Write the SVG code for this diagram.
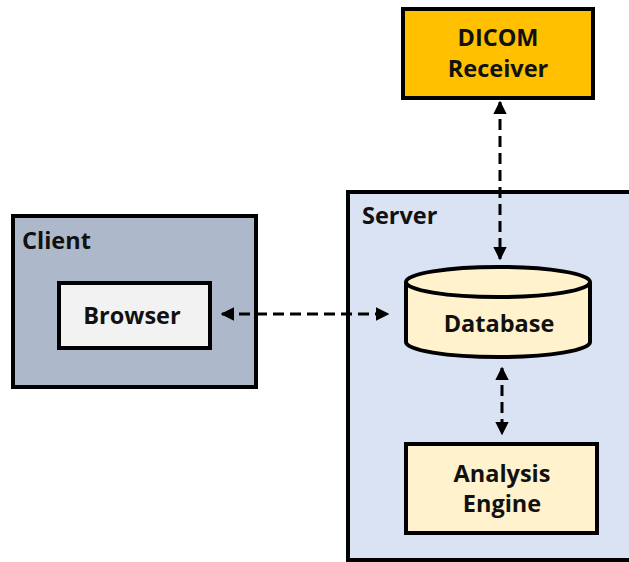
<svg xmlns="http://www.w3.org/2000/svg" width="629" height="562" viewBox="0 0 629 562">
  <defs>
    <marker id="arrow" viewBox="0 0 10 10" refX="9" refY="5" markerWidth="4.5" markerHeight="4.5" orient="auto-start-reverse" markerUnits="strokeWidth">
      <path d="M0,0 L10,5 L0,10 z" fill="#000"/>
    </marker>
    <style>
      .box { stroke: #000; stroke-width: 4; }
      .lbl { font-family: "Open Sans", "Noto Sans", sans-serif; font-weight: bold; font-size: 23.5px; fill: #111; }
      .conn { stroke: #000; stroke-width: 3; fill: none; stroke-dasharray: 11 6; marker-start: url(#arrow); marker-end: url(#arrow); }
    </style>
  </defs>
  <rect width="629" height="562" fill="#fff"/>

  <g id="server">
    <rect class="box" x="348" y="192" width="285" height="368" fill="#DAE3F3"/>
    <text class="lbl" x="362" y="224">Server</text>
  </g>

  <g id="client">
    <rect class="box" x="13" y="216" width="243" height="171" fill="#ADB9CA"/>
    <text class="lbl" x="22" y="249">Client</text>
  </g>

  <g id="browser">
    <rect class="box" x="59" y="283" width="151" height="65" fill="#F2F2F2"/>
    <text class="lbl" x="132" y="324" text-anchor="middle">Browser</text>
  </g>

  <g id="dicom">
    <rect class="box" x="403" y="9" width="190" height="89" fill="#FFC000"/>
    <text class="lbl" x="498" y="46" text-anchor="middle">DICOM</text>
    <text class="lbl" x="498" y="77" text-anchor="middle">Receiver</text>
  </g>

  <g id="database">
    <path class="box" d="M406,282 L406,342 A92,15 0 0 0 590,342 L590,282" fill="#FFF2CC"/>
    <ellipse class="box" cx="498" cy="282" rx="92" ry="15" fill="#FFF2CC"/>
    <text class="lbl" x="499" y="332" text-anchor="middle">Database</text>
  </g>

  <g id="analysis">
    <rect class="box" x="406" y="444" width="191" height="89" fill="#FFF2CC"/>
    <text class="lbl" x="502" y="482" text-anchor="middle">Analysis</text>
    <text class="lbl" x="502" y="512" text-anchor="middle">Engine</text>
  </g>

  <g id="connectors">
    <line class="conn" x1="222" y1="314" x2="388" y2="314"/>
    <line class="conn" x1="500" y1="102" x2="500" y2="259"/>
    <line class="conn" x1="502" y1="368" x2="502" y2="434"/>
  </g>
</svg>
